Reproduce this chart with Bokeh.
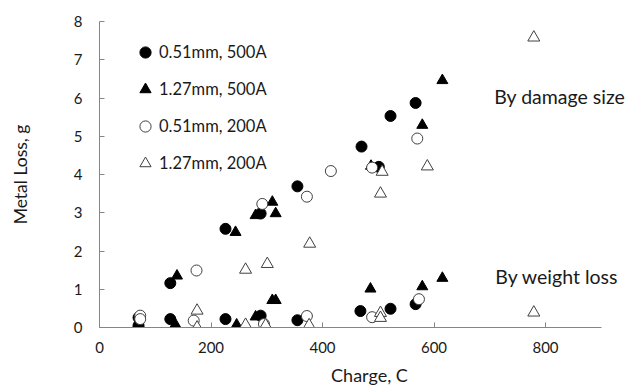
from bokeh.plotting import figure
from bokeh.models import Range1d, FixedTicker, Legend, LegendItem, Label
from bokeh.embed import file_html
from bokeh.resources import INLINE

# 0.51mm, 500A (filled circles)
s1_x = [70, 70, 127, 127, 226, 226, 289, 289, 355, 355, 470, 468, 501, 522, 522, 567, 567]
s1_y = [0.26, 0.05, 1.16, 0.22, 2.58, 0.22, 2.98, 0.31, 3.69, 0.19, 4.73, 0.43, 4.20, 5.53, 0.49, 5.87, 0.61]
# 1.27mm, 500A (filled triangles)
s2_x = [70, 70, 139, 136, 244, 246, 280, 280, 310, 316, 310, 316, 487, 486, 579, 579, 615, 615]
s2_y = [0.10, 0.02, 1.35, 0.08, 2.49, 0.07, 2.93, 0.28, 3.28, 2.98, 0.71, 0.71, 4.22, 1.01, 5.29, 1.07, 6.46, 1.29]
# 0.51mm, 200A (open circles)
s3_x = [73, 73, 174, 169, 292, 295, 372, 372, 415, 489, 489, 570, 573]
s3_y = [0.31, 0.22, 1.49, 0.18, 3.23, 0.09, 3.42, 0.30, 4.09, 4.18, 0.27, 4.94, 0.74]
# 1.27mm, 200A (open triangles)
s4_x = [175, 175, 262, 262, 301, 298, 377, 376, 504, 507, 504, 504, 588, 779, 779]
s4_y = [0.44, 0.0, 1.51, 0.07, 1.66, 0.06, 2.19, 0.06, 3.50, 4.07, 0.38, 0.25, 4.21, 7.58, 0.39]

labels = ["0.51mm, 500A", "1.27mm, 500A", "0.51mm, 200A", "1.27mm, 200A"]
x_ticks = [0, 200, 400, 600, 800]
y_ticks = [0, 1, 2, 3, 4, 5, 6, 7, 8]

FONT = "Lato"
TXT = "#1a1a1a"
AX = "#868686"

# frame extends past x=900 so the annotations are not clipped; the axis line stops at 900
p = figure(width=640, height=388, x_range=Range1d(0, 968.6), y_range=Range1d(0, 8),
           output_backend="svg", toolbar_location=None,
           min_border_left=99, min_border_right=1, min_border_top=21, min_border_bottom=61)
p.outline_line_color = None
p.xgrid.visible = False
p.ygrid.visible = False
p.background_fill_color = "white"
p.border_fill_color = "white"

for ax in (p.xaxis[0], p.yaxis[0]):
    ax.axis_line_color = AX
    ax.major_tick_line_color = AX
    ax.minor_tick_line_color = None
    ax.major_tick_in = 5
    ax.major_tick_out = 0
    ax.major_label_text_font = FONT
    ax.major_label_text_font_size = "15px"
    ax.major_label_text_color = TXT
    ax.axis_label_text_font = FONT
    ax.axis_label_text_font_size = "17.5px"
    ax.axis_label_text_font_style = "normal"
    ax.axis_label_text_color = TXT

p.xaxis.bounds = (0, 900)
p.xaxis.ticker = FixedTicker(ticks=x_ticks)
p.yaxis.ticker = FixedTicker(ticks=y_ticks)
p.xaxis.major_label_standoff = 14
p.yaxis.major_label_standoff = 17
p.xaxis.axis_label = "Charge, C"
p.yaxis.axis_label = "Metal Loss, g"
p.xaxis.axis_label_text_font_size = "18px"
p.xaxis.axis_label_standoff = 8
p.yaxis.axis_label_standoff = 40

r1 = p.scatter(s1_x, s1_y, marker="circle", size=11, fill_color="black", line_color="black")
r2 = p.scatter(s2_x, s2_y, marker="triangle", size=11, fill_color="black", line_color="black")
r3 = p.scatter(s3_x, s3_y, marker="circle", size=11, fill_color="white", line_color="#404040", line_width=1)
r4 = p.scatter(s4_x, s4_y, marker="triangle", size=12, fill_color="white", line_color="#404040", line_width=1)

legend = Legend(items=[LegendItem(label=l, renderers=[r]) for l, r in zip(labels, [r1, r2, r3, r4])],
                location=(32, 150), padding=0, margin=0, spacing=9,
                glyph_width=28, glyph_height=28, label_height=28, label_standoff=0,
                border_line_color=None, background_fill_alpha=0,
                label_text_font=FONT, label_text_font_size="16.5px", label_text_color=TXT)
p.add_layout(legend)

p.add_layout(Label(x=708, y=6.03, text="By damage size", text_font=FONT, text_font_size="19.5px",
                   text_color=TXT, text_baseline="middle", text_align="left"))
p.add_layout(Label(x=710, y=1.33, text="By weight loss", text_font=FONT, text_font_size="19.5px",
                   text_color=TXT, text_baseline="middle", text_align="left"))

open("out.html", "w").write(file_html(p, INLINE))
